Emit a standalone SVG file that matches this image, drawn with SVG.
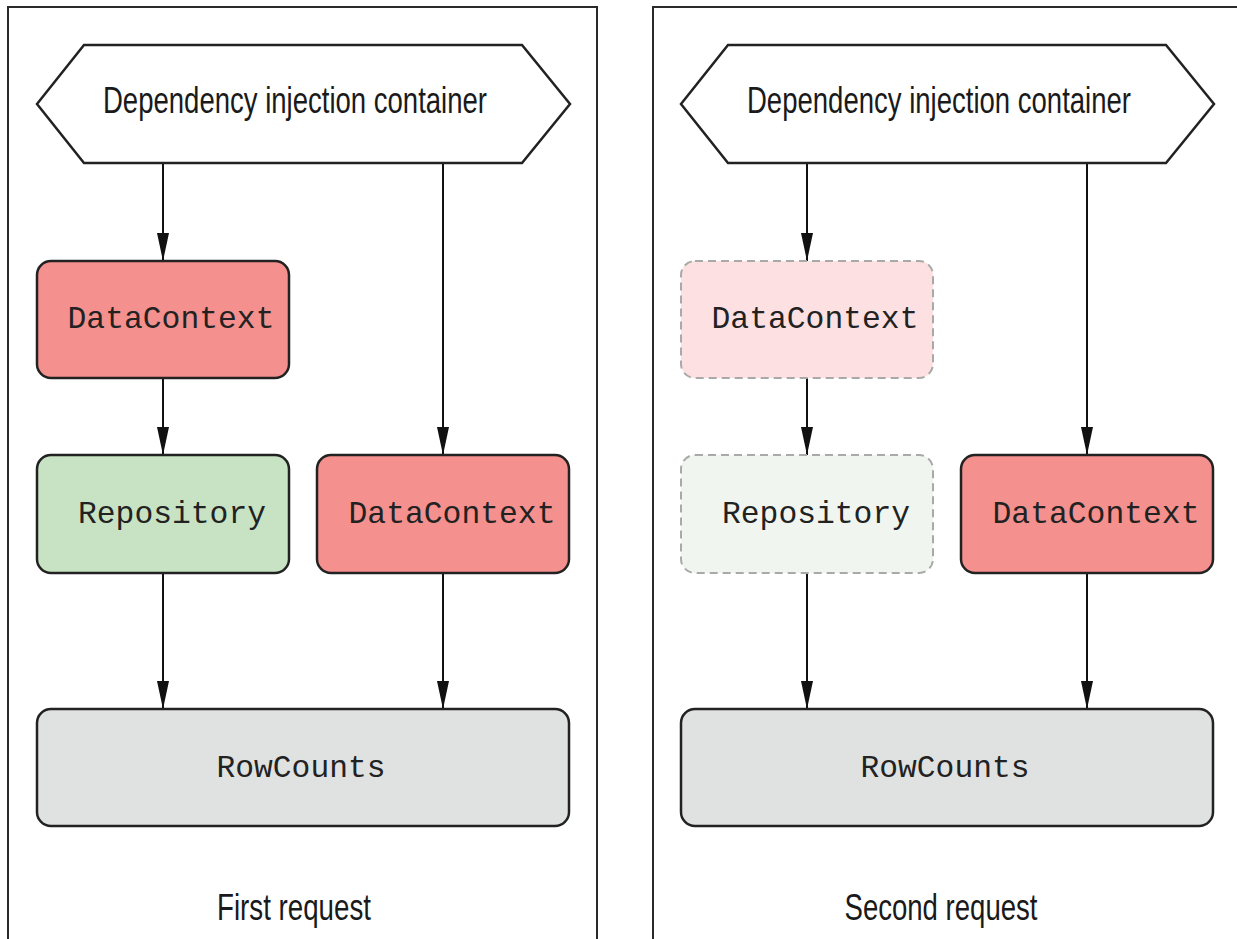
<svg xmlns="http://www.w3.org/2000/svg" width="1237" height="939" viewBox="0 0 1237 939">
<style>
.panel{fill:none;stroke:#2a2a2a;stroke-width:2}
.hex{fill:#fff;stroke:#222;stroke-width:2.5}
.box{stroke:#222;stroke-width:2.5}
.ghost{stroke:#a9a9a9;stroke-width:2;stroke-dasharray:8 5}
.red{fill:#f4908d}
.green{fill:#c8e3c3}
.gray{fill:#e0e1e1}
.lred{fill:#fde0e1}
.lgreen{fill:#f0f6ef}
.mono{font-family:"Liberation Mono","Courier New",monospace;font-size:32px;fill:#222}
.sans{font-family:"Liberation Sans Narrow","Liberation Sans",Arial,sans-serif;font-size:36px;fill:#1a1a1a}
.conn{stroke:#111;stroke-width:2;fill:none;marker-end:url(#ah)}
</style>
<defs>
<marker id="ah" viewBox="0 0 28 12" refX="28" refY="6" markerWidth="28" markerHeight="12" markerUnits="userSpaceOnUse" orient="auto">
<path d="M0,0 L28,6 L0,12 Z" fill="#111"/>
</marker>
</defs>
<rect width="1237" height="939" fill="#fff"/>
<g id="panel-left"><path class="panel" d="M8,939 V7 H597 V939"/></g>
<g id="panel-right"><path class="panel" d="M653,939 V7 H1245"/></g>

<g id="connectors">
<line class="conn" x1="163" y1="163" x2="163" y2="261"/>
<line class="conn" x1="443" y1="163" x2="443" y2="455"/>
<line class="conn" x1="163" y1="378" x2="163" y2="455"/>
<line class="conn" x1="163" y1="573" x2="163" y2="709"/>
<line class="conn" x1="443" y1="573" x2="443" y2="709"/>
<line class="conn" x1="807" y1="163" x2="807" y2="261"/>
<line class="conn" x1="1087" y1="163" x2="1087" y2="455"/>
<line class="conn" x1="807" y1="378" x2="807" y2="455"/>
<line class="conn" x1="807" y1="573" x2="807" y2="709"/>
<line class="conn" x1="1087" y1="573" x2="1087" y2="709"/>
</g>

<g id="di-left">
<polygon class="hex" points="37,104 84,45 522,45 570,104 522,163 84,163"/>
<text class="sans" x="295" y="113" text-anchor="middle" textLength="384" lengthAdjust="spacingAndGlyphs">Dependency injection container</text>
</g>
<g id="dc1-left">
<rect class="box red" x="37" y="261" width="252" height="117" rx="14"/>
<text class="mono" x="171" y="328" text-anchor="middle" textLength="207" lengthAdjust="spacingAndGlyphs">DataContext</text>
</g>
<g id="repo-left">
<rect class="box green" x="37" y="455" width="252" height="118" rx="14"/>
<text class="mono" x="172" y="523" text-anchor="middle" textLength="188" lengthAdjust="spacingAndGlyphs">Repository</text>
</g>
<g id="dc2-left">
<rect class="box red" x="317" y="455" width="252" height="118" rx="14"/>
<text class="mono" x="452" y="523" text-anchor="middle" textLength="207" lengthAdjust="spacingAndGlyphs">DataContext</text>
</g>
<g id="rowcounts-left">
<rect class="box gray" x="37" y="709" width="532" height="117" rx="14"/>
<text class="mono" x="301" y="777" text-anchor="middle" textLength="169" lengthAdjust="spacingAndGlyphs">RowCounts</text>
</g>
<g id="label-left">
<text class="sans" x="294" y="920" text-anchor="middle" textLength="154" lengthAdjust="spacingAndGlyphs">First request</text>
</g>

<g id="di-right">
<polygon class="hex" points="681,104 728,45 1166,45 1214,104 1166,163 728,163"/>
<text class="sans" x="939" y="113" text-anchor="middle" textLength="384" lengthAdjust="spacingAndGlyphs">Dependency injection container</text>
</g>
<g id="dc1-right">
<rect class="ghost lred" x="681" y="261" width="252" height="117" rx="14"/>
<text class="mono" x="815" y="328" text-anchor="middle" textLength="207" lengthAdjust="spacingAndGlyphs">DataContext</text>
</g>
<g id="repo-right">
<rect class="ghost lgreen" x="681" y="455" width="252" height="118" rx="14"/>
<text class="mono" x="816" y="523" text-anchor="middle" textLength="188" lengthAdjust="spacingAndGlyphs">Repository</text>
</g>
<g id="dc2-right">
<rect class="box red" x="961" y="455" width="252" height="118" rx="14"/>
<text class="mono" x="1096" y="523" text-anchor="middle" textLength="207" lengthAdjust="spacingAndGlyphs">DataContext</text>
</g>
<g id="rowcounts-right">
<rect class="box gray" x="681" y="709" width="532" height="117" rx="14"/>
<text class="mono" x="945" y="777" text-anchor="middle" textLength="169" lengthAdjust="spacingAndGlyphs">RowCounts</text>
</g>
<g id="label-right">
<text class="sans" x="941" y="920" text-anchor="middle" textLength="193" lengthAdjust="spacingAndGlyphs">Second request</text>
</g>
</svg>
